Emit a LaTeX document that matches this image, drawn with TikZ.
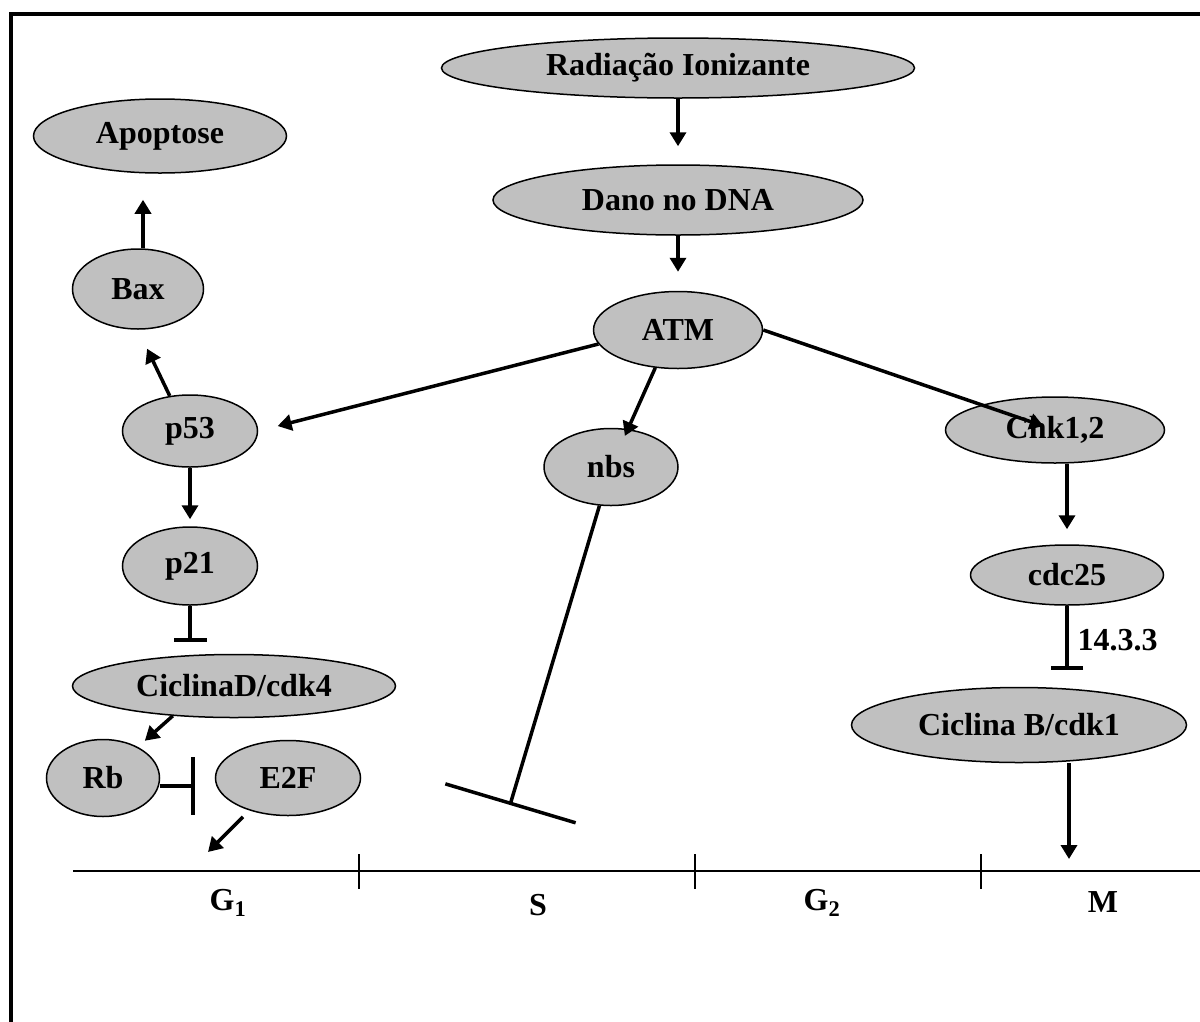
\documentclass[tikz,border=0pt]{standalone}
\usepackage{fontspec}
\setmainfont{Liberation Serif}
\usepackage{tikz}
\usetikzlibrary{arrows.meta,positioning,shapes.geometric}
\definecolor{cellgray}{RGB}{192,192,192}

\begin{document}
\begin{tikzpicture}[
  x=1pt, y=-1pt,
  cell/.style 2 args={ellipse, draw, line width=1.5pt, fill=cellgray, minimum width=#1, minimum height=#2, inner sep=0pt, font=\fontsize{32}{38}\selectfont\bfseries},
  act/.style={-{Triangle[length=14pt,width=16pt]}, line width=3.5pt},
  inh/.style={-{Bar[width=#1]}, line width=3.5pt},
  phase/.style={font=\fontsize{32}{38}\selectfont\bfseries},
]
\useasboundingbox (0,0) rectangle (1200,1021);
% frame
\draw[line width=4pt] (11,1030) -- (11,14) -- (1210,14);
% nodes
\node[cell={473pt}{60pt}] (rad) at (678,68) {Radiação Ionizante};
\node[cell={370pt}{70pt}] (dano) at (678,200) {Dano no DNA};
\node[cell={169pt}{77pt}] (atm) at (678,330) {ATM};
\node[cell={253pt}{74pt}] (apop) at (160,136) {Apoptose};
\node[cell={131pt}{80pt}] (bax) at (138,289) {Bax};
\node[cell={135pt}{72pt}] (p53) at (190,431) {p53};
\node[cell={134pt}{77pt}] (nbs) at (611,467) {nbs};
\node[cell={219pt}{66pt}] (chk) at (1055,430) {Chk1,2};
\node[cell={135pt}{78pt}] (p21) at (190,566) {p21};
\node[cell={193pt}{60pt}] (cdc) at (1067,575) {cdc25};
\node[cell={323pt}{63pt}] (cicd) at (234,686) {CiclinaD/cdk4};
\node[cell={113pt}{77pt}] (rb) at (103,778) {Rb};
\node[cell={145pt}{75pt}] (e2f) at (288,778) {E2F};
\node[cell={335pt}{75pt}] (cicb) at (1019,725) {Ciclina B/cdk1};
\coordinate (g1in) at (208,852);
\coordinate (nbsbar) at (510,805);
\coordinate (marr) at (1069,859);
% connectors
\draw[act, shorten >=18pt] (rad) -- (dano);
\draw[act, shorten >=19pt] (dano) -- (atm);
\draw[act, shorten >=26pt] ([xshift=5pt]bax.north) -- ([xshift=5pt]bax.north |- apop.south);
\draw[act, shorten >=21pt] (p53.120) -- (bax.south);
\draw[act, shorten >=20pt] (atm.190) -- (p53.east);
\draw[act, shorten >=34pt] (atm.239) -- (nbs.center);
\draw[act, shorten >=12pt] (atm.east) -- (chk.center);
\draw[act, shorten >=7pt] (p53) -- (p21);
\draw[inh=33pt, shorten >=12pt] (p21) -- (p21 |- cicd.north);
\draw[act, shorten >=56pt] (cicd.206) -- (rb.center);
\draw[inh=58pt, shorten >=20pt] ([yshift=-8pt]rb.east) -- ([yshift=-8pt]rb.east -| e2f.west);
\draw[act, shorten <=9pt] (e2f.220) -- (g1in);
\draw[inh=136pt] (nbs) -- (nbsbar);
\draw[act, shorten >=15pt] (cdc.north |- chk.south) -- (cdc.north);
\draw[inh=32pt, shorten >=17pt] (cdc) -- (cdc |- cicb.north);
\node[phase, anchor=west] (bind) at (1074,640) {14.3.3};
\draw[act] (marr |- cicb.south) -- (marr);
% cell cycle
\draw[line width=2pt] (73,871) -- (1205,871);
\foreach \x in {359,695,981}
  \draw[line width=2pt] (\x,854) -- (\x,889);
\node[phase] (g1) at (228,903) {G\textsubscript{1}};
\node[phase] (sph) at (538,905) {S};
\node[phase] (g2) at (822,903) {G\textsubscript{2}};
\node[phase] (mph) at (1103,902) {M};
\end{tikzpicture}
\end{document}
